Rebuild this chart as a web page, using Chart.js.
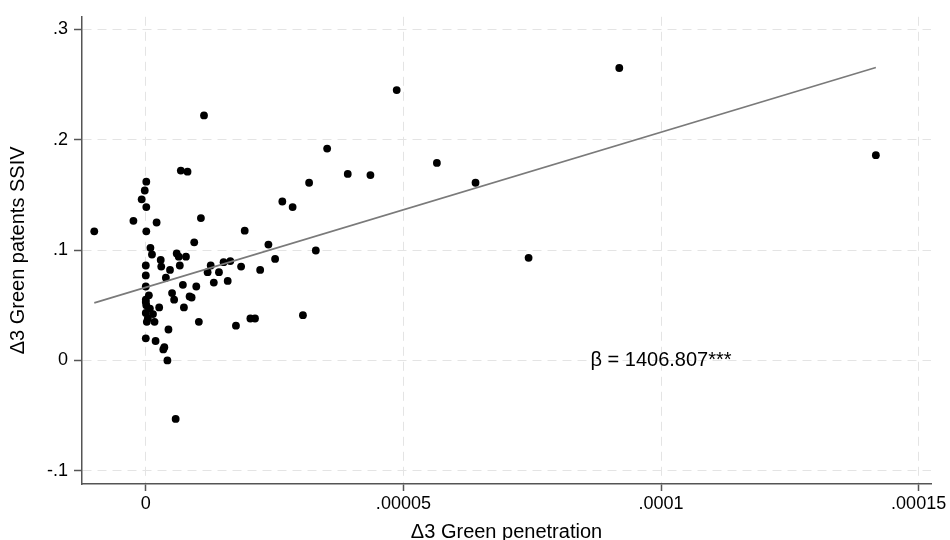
<!DOCTYPE html>
<html>
<head>
<meta charset="utf-8">
<title>Green penetration vs green patents</title>
<script src="https://cdn.jsdelivr.net/npm/chart.js@4.4.1/dist/chart.umd.min.js"></script>
<style>
    html, body { margin: 0; padding: 0; background: #fff; }
    #wrap { width: 950px; height: 540px; }
</style>
</head>
<body>
<div id="wrap"><canvas id="scatterChart" width="950" height="540"></canvas></div>
<script>
// Δ3 Green penetration (x) and Δ3 Green patents SSIV (y), one entry per observation
const greenPenetration = [
    -1.00e-5, -0.24e-5, -0.08e-5, -0.02e-5, 0.01e-5, 0.01e-5, 0.01e-5, 0.21e-5, 0.68e-5, 0.81e-5,
    1.07e-5, 1.13e-5, 0.94e-5, 0.09e-5, 0.12e-5, 0.60e-5, 0.64e-5, 0.78e-5, 0.29e-5, 0.30e-5,
    0, 0.47e-5, 0.66e-5, 0, 0.39e-5, 0, 1.26e-5, 1.20e-5, 1.42e-5, 1.51e-5,
    1.64e-5, 1.85e-5, 1.32e-5, 1.59e-5, 0.72e-5, 0.98e-5, 0.51e-5, 0.55e-5, 0.85e-5, 0.89e-5,
    0.06e-5, 0, 0.01e-5, 0.08e-5, 0.26e-5, 0, 0.14e-5, 0.74e-5, 0.02e-5, 0.17e-5,
    1.03e-5, 1.75e-5, 2.03e-5, 2.12e-5, 0.44e-5, 0, 0.19e-5, 0.36e-5, 0.34e-5, 0.42e-5,
    0.58e-5, 1.92e-5, 2.38e-5, 2.22e-5, 2.51e-5, 2.65e-5, 2.85e-5, 3.17e-5, 3.30e-5, 3.05e-5,
    3.52e-5, 3.92e-5, 4.36e-5, 4.87e-5, 5.65e-5, 6.40e-5, 7.43e-5, 9.19e-5, 14.17e-5, 0, 0.04e-5
];
const greenPatents = [
    0.117, 0.1265, 0.146, 0.154, 0.162, 0.139, 0.117, 0.125, 0.172, 0.171,
    0.129, 0.222, 0.107, 0.102, 0.096, 0.097, 0.094, 0.094, 0.091, 0.085,
    0.086, 0.082, 0.086, 0.077, 0.075, 0.067, 0.086, 0.080, 0.080, 0.089,
    0.090, 0.085, 0.0705, 0.072, 0.0685, 0.067, 0.061, 0.055, 0.058, 0.057,
    0.059, 0.055, 0.050, 0.047, 0.048, 0.043, 0.042, 0.048, 0.035, 0.035,
    0.035, 0.0315, 0.038, 0.038, 0.028, 0.020, 0.0176, 0.012, 0.010, 0.000,
    -0.053, 0.1176, 0.105, 0.082, 0.092, 0.144, 0.139, 0.161, 0.0996, 0.041,
    0.192, 0.169, 0.168, 0.245, 0.179, 0.161, 0.093, 0.265, 0.186, 0.053, 0.038
];

// linear fit
const fitSlope = 1406.807;
const fitIntercept = 0.0662;
const betaLabel = 'β = 1406.807***';
const betaPos = [0.0001, 0];

// axes
const xTickValues = [0, 0.00005, 0.0001, 0.00015];
const xTickLabels = ['0', '.00005', '.0001', '.00015'];
const yTickValues = [-0.1, 0, 0.1, 0.2, 0.3];
const yTickLabels = ['-.1', '0', '.1', '.2', '.3'];
const xRange = [-0.00001238, 0.0001524];
const yRange = [-0.1120, 0.3114];

const FONT = "'Liberation Sans', Arial, Helvetica, sans-serif";

const points = greenPenetration.map((x, i) => ({ x: x, y: greenPatents[i] }));
const xMin = Math.min(...greenPenetration);
const xMax = Math.max(...greenPenetration);
const fitLine = [xMin, xMax].map(x => ({ x: x, y: fitIntercept + fitSlope * x }));

// text label for the coefficient
const betaText = {
    id: 'betaText',
    afterDatasetsDraw(chart) {
        const { ctx, scales: { x, y } } = chart;
        ctx.save();
        ctx.font = `20px ${FONT}`;
        ctx.fillStyle = '#000';
        ctx.textAlign = 'center';
        ctx.textBaseline = 'middle';
        ctx.fillText(betaLabel, x.getPixelForValue(betaPos[0]), y.getPixelForValue(betaPos[1]));
        ctx.restore();
    }
};

const axisStyle = (tickLen) => ({
    grid: { color: '#e4e4e4', lineWidth: 1, tickColor: '#555', tickLength: tickLen, tickWidth: 1.5 },
    border: { color: '#555', width: 1.5, dash: [9, 6] }
});

new Chart(document.getElementById('scatterChart'), {
    type: 'scatter',
    data: {
        datasets: [
            {
                type: 'line',
                data: fitLine,
                borderColor: '#7a7a7a',
                borderWidth: 1.6,
                pointRadius: 0,
                fill: false,
                order: 0
            },
            {
                data: points,
                backgroundColor: '#000',
                borderWidth: 0,
                pointRadius: 3.9,
                order: 1
            }
        ]
    },
    options: {
        responsive: false,
        animation: false,
        devicePixelRatio: 1,
        layout: { padding: { top: 10, right: 19, left: 0, bottom: 0 } },
        plugins: { legend: { display: false }, tooltip: { enabled: false } },
        scales: {
            x: {
                type: 'linear',
                min: xRange[0],
                max: xRange[1],
                ...axisStyle(7),
                afterBuildTicks: s => { s.ticks = xTickValues.map(v => ({ value: v })); },
                afterFit: s => { s.height = 56; },
                ticks: {
                    color: '#000',
                    padding: 2,
                    maxRotation: 0,
                    font: { family: FONT, size: 18 },
                    callback: v => xTickLabels[xTickValues.indexOf(v)]
                },
                title: {
                    display: true,
                    text: 'Δ3 Green penetration',
                    color: '#000',
                    font: { family: FONT, size: 20, lineHeight: 0.8 },
                    padding: 0
                }
            },
            y: {
                type: 'linear',
                min: yRange[0],
                max: yRange[1],
                ...axisStyle(8),
                afterBuildTicks: s => { s.ticks = yTickValues.map(v => ({ value: v })); },
                afterFit: s => { s.width = 82; },
                ticks: {
                    color: '#000',
                    padding: 6,
                    font: { family: FONT, size: 18 },
                    callback: v => yTickLabels[yTickValues.indexOf(v)]
                },
                title: {
                    display: true,
                    text: 'Δ3 Green patents SSIV',
                    color: '#000',
                    font: { family: FONT, size: 20 },
                    padding: { top: 6, bottom: 0 }
                }
            }
        }
    },
    plugins: [betaText]
});
</script>
</body>
</html>
